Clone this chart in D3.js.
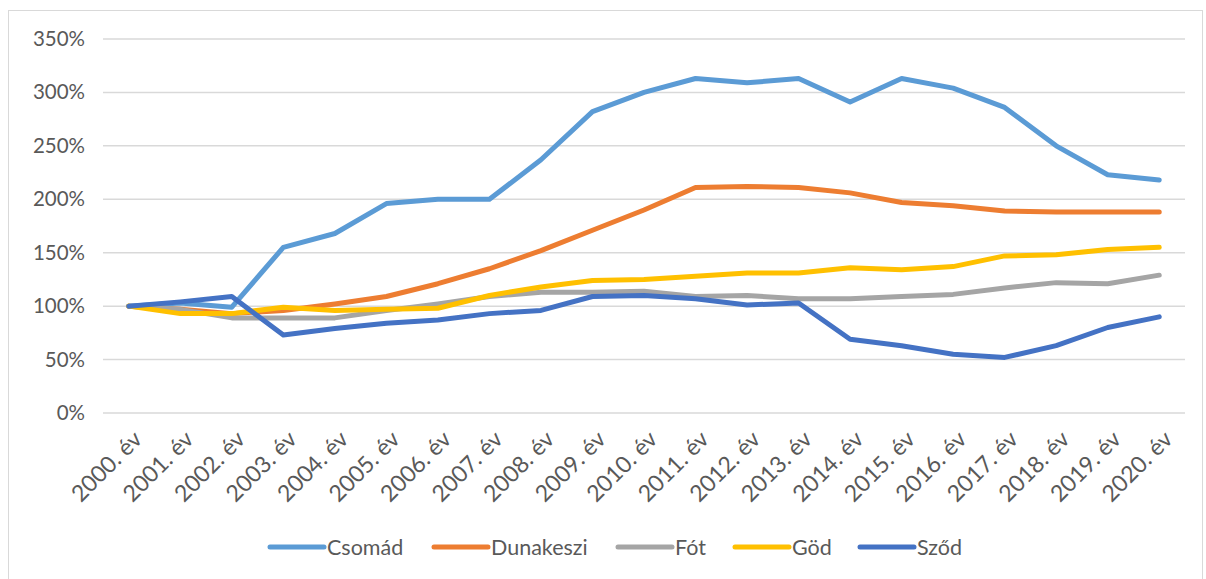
<!DOCTYPE html>
<html><head><meta charset="utf-8">
<script src="https://cdn.jsdelivr.net/npm/d3@7/dist/d3.min.js"></script>
<style>body{margin:0;background:#fff}svg{display:block}</style>
</head><body>
<svg id="c" width="1206" height="579"></svg>
<script>
const categories = ["2000. év","2001. év","2002. év","2003. év","2004. év","2005. év","2006. év","2007. év","2008. év","2009. év","2010. év","2011. év","2012. év","2013. év","2014. év","2015. év","2016. év","2017. év","2018. év","2019. év","2020. év"];
const seriesNames = ["Csomád","Dunakeszi","Fót","Göd","Sződ"];
const csomad    = [100,103,99,155,168,196,200,200,237,282,300,313,309,313,291,313,304,286,250,223,218];
const dunakeszi = [100,97,93,96,102,109,121,135,152,171,190,211,212,211,206,197,194,189,188,188,188];
const fot       = [100,97,89,89,89,96,102,109,113,113,114,109,110,107,107,109,111,117,122,121,129];
const god       = [100,93,93,99,96,97,98,110,118,124,125,128,131,131,136,134,137,147,148,153,155];
const szod      = [100,104,109,73,79,84,87,93,96,109,110,107,101,103,69,63,55,52,63,80,90];
const yTicks = [0,50,100,150,200,250,300,350];
const colors = ["#5B9BD5","#ED7D31","#A5A5A5","#FFC000","#4472C4"];

const series = [csomad,dunakeszi,fot,god,szod];
const svg = d3.select("#c");
const font = "Lato, 'Open Sans', sans-serif";

// outer border
svg.append("rect").attr("x",8.5).attr("y",10.5).attr("width",1194).attr("height",590)
  .attr("fill","none").attr("stroke","#D9D9D9").attr("stroke-width",1);

const x = d3.scaleBand().domain(categories).range([103,1185]);
const y = d3.scaleLinear().domain([0,350]).range([413,39]);

// gridlines
svg.append("g").selectAll("line").data(yTicks).join("line")
  .attr("x1",103).attr("x2",1185).attr("y1",d=>y(d)).attr("y2",d=>y(d))
  .attr("stroke","#D9D9D9").attr("stroke-width",1.5);

// y axis
const ya = svg.append("g").attr("transform","translate(88,0)")
  .call(d3.axisLeft(y).tickValues(yTicks).tickSize(0).tickFormat(d=>d+"%"));
ya.select(".domain").remove();
ya.selectAll("text").attr("font-family",font).attr("font-size",20.5).attr("fill","#595959").attr("dx",0);

// x axis
const xa = svg.append("g").attr("transform","translate(0,413)")
  .call(d3.axisBottom(x).tickSize(0));
xa.select(".domain").remove();
xa.selectAll("text").attr("font-family",font).attr("font-size",23).attr("fill","#595959")
  .attr("text-anchor","end").attr("transform","translate(9,22) rotate(-45)").attr("dy","0.35em").attr("y",0);

// lines
const line = d3.line().x((d,i)=>x(categories[i])+x.bandwidth()/2).y(d=>y(d));
svg.append("g").selectAll("path").data(series).join("path")
  .attr("d",line).attr("fill","none").attr("stroke",(d,i)=>colors[i])
  .attr("stroke-width",5).attr("stroke-linecap","round").attr("stroke-linejoin","round");

// legend
const legX = [268,432,616,733,858];
const lg = svg.append("g").selectAll("g").data(seriesNames).join("g")
  .attr("transform",(d,i)=>`translate(${legX[i]},547)`);
lg.append("line").attr("x1",2).attr("x2",56).attr("y1",0).attr("y2",0)
  .attr("stroke",(d,i)=>colors[i]).attr("stroke-width",5).attr("stroke-linecap","round");
lg.append("text").attr("x",59).attr("y",0).attr("dy","0.35em").text(d=>d)
  .attr("font-family",font).attr("font-size",21.5).attr("fill","#595959");
</script>
</body></html>
